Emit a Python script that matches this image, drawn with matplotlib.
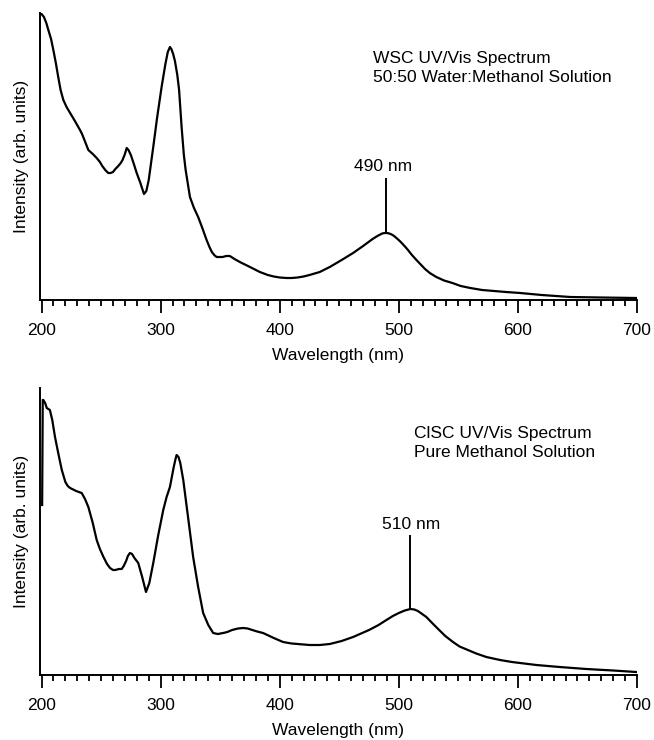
import numpy as np
import matplotlib.pyplot as plt
from matplotlib.ticker import MultipleLocator

plt.rcParams['font.family'] = ['Liberation Sans', 'DejaVu Sans']
plt.rcParams['font.size'] = 12.5

# WSC spectrum, 50:50 water:methanol (arb. units)
wsc_nm = [200, 202, 204, 205.7, 208, 209.9, 212, 214, 216, 218.3, 221, 224, 228, 232.3,
          234, 236, 239.3, 243, 246.3, 249, 251, 253.5, 256, 258, 260, 262, 264.4,
          266.5, 268, 270, 271.5, 273, 275, 277.5, 279.9, 283, 286, 288, 290, 293.8,
          297, 300.8, 304, 306, 307.8, 309, 310.5, 312, 314, 315.5, 317.6, 319.5, 321,
          323, 324.6, 328, 331.5, 335, 338.6, 341, 343, 345, 347, 350, 352, 355, 358.1,
          362, 366.5, 375, 383.3, 390, 395, 400, 405.7, 410, 415, 420, 425, 433.6, 442,
          452, 461.6, 470, 478, 482, 486, 488.2, 490, 492, 494, 496, 498, 500.8, 504,
          507, 511, 514.8, 518, 522, 526, 531.5, 538, 545, 552, 560, 570, 580, 590,
          601.9, 620, 643.9, 670, 699.3]
wsc_int = [286, 283, 277, 270, 261, 250, 237, 223, 210, 200, 193, 187, 179, 170,
           166, 160, 150, 146, 142, 138, 134, 130, 127, 127, 128, 131, 134,
           137, 140, 146, 152, 150, 145, 136, 127, 117, 106, 109, 120, 153,
           182, 213, 236, 248, 253, 251, 246, 239, 225, 210, 173, 145, 130,
           115, 103, 92, 83, 72, 60, 53, 48, 45, 43, 43, 43, 44, 44,
           41, 38, 33, 28, 25, 23.5, 22.5, 22, 22, 22.5, 23.5, 25, 28, 33,
           40, 47, 54, 61, 64, 66.5, 67, 67, 66.5, 65.5, 64, 62, 59, 55,
           51, 45, 40, 36, 31, 27, 23, 19.5, 17, 14, 12, 10, 9, 8,
           7, 5, 3, 2.5, 2]
wsc_peak = 489
wsc_peak_int = 67

# ClSC spectrum, pure methanol
clsc_nm = [200.5, 201, 201.5, 203, 204.4, 207, 209, 211.3, 214, 217, 220, 222, 224, 229,
           233.7, 236.5, 239.3, 243, 246.3, 249, 252, 255, 257.5, 260, 262, 265, 267.3,
           269, 271, 272.5, 274.2, 276, 278, 281.2, 284.5, 287.7, 290.5, 293.8, 298,
           302.2, 305, 307.8, 311, 312.5, 313.4, 315, 316.5, 319, 323, 327.3, 331.5,
           335.7, 340, 344.1, 348, 352.5, 356, 360, 365, 369.3, 373, 377, 381, 386, 395,
           402.8, 410, 415, 420, 425.3, 433.6, 442, 452, 461.6, 475, 483, 489.6, 495, 500,
           505, 509.7, 513, 516, 519, 523.1, 528, 533, 539, 545.5, 551, 558, 565, 573.5,
           585, 595, 615.5, 635, 657.4, 680, 699.3]
clsc_int = [170, 275, 275, 272, 267, 265, 255, 238, 222, 205, 193, 189, 187, 184,
            182, 176, 168, 152, 135, 126, 118, 111, 107, 105, 105, 106, 106,
            109, 114, 119, 122, 121, 117, 112, 98, 83, 92, 112, 140,
            165, 178, 188, 208, 216, 220, 218, 212, 195, 158, 118, 88,
            62, 50, 42, 41, 42, 43, 45, 46.5, 47, 46.5, 45, 43.5, 42, 37,
            33, 31.5, 31, 30.5, 30, 30, 31, 34, 38, 45, 50, 55, 59, 62,
            64.5, 66, 65.5, 64, 61.5, 58, 52, 46, 39, 33, 28.5, 25, 21.5, 18,
            15, 13, 10, 8, 6, 4.5, 3]
clsc_peak = 509.7
clsc_peak_int = 66

fig = plt.figure(figsize=(6.54, 7.40), dpi=100)
ax1 = fig.add_axes([40/654, 440/740, 597/654, 287/740])
ax2 = fig.add_axes([40/654, 65/740, 597/654, 287/740])


def style(ax):
    ax.set_xlim(198.7, 700)
    ax.set_ylim(0, 287)
    for s in ['top', 'right']:
        ax.spines[s].set_visible(False)
    for s in ['left', 'bottom']:
        ax.spines[s].set_linewidth(1.4)
    ax.set_yticks([])
    ax.xaxis.set_major_locator(MultipleLocator(100))
    ax.xaxis.set_minor_locator(MultipleLocator(10))
    ax.tick_params(axis='x', which='major', length=9.5, width=1.3, pad=7)
    ax.tick_params(axis='x', which='minor', length=4.5, width=1.3)
    ax.set_xlabel('Wavelength (nm)', labelpad=7)
    ax.set_ylabel('Intensity (arb. units)', labelpad=8)


style(ax1)
ax1.plot(wsc_nm, wsc_int, color='black', lw=1.6)
ax1.vlines(wsc_peak, wsc_peak_int, 122, color='black', lw=1.4)
ax1.text(wsc_peak - 2, 126, '490 nm', ha='center', va='bottom')
ax1.text(478, 232, 'WSC UV/Vis Spectrum\n50:50 Water:Methanol Solution',
         ha='left', va='center', linespacing=1.4)

style(ax2)
ax2.plot(clsc_nm, clsc_int, color='black', lw=1.6)
ax2.vlines(clsc_peak, clsc_peak_int, 140, color='black', lw=1.4)
ax2.text(clsc_peak + 1, 143, '510 nm', ha='center', va='bottom')
ax2.text(512.5, 232, 'ClSC UV/Vis Spectrum\nPure Methanol Solution',
         ha='left', va='center', linespacing=1.4)

fig.savefig('out.png', dpi=100)
